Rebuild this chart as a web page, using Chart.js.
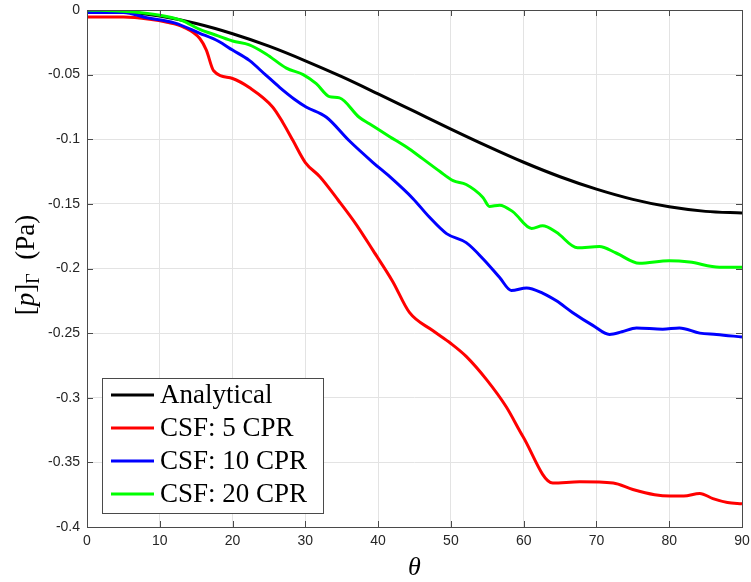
<!DOCTYPE html>
<html>
<head>
<meta charset="utf-8">
<script src="https://cdn.jsdelivr.net/npm/chart.js@4.4.1/dist/chart.umd.min.js"></script>
<style>
  html, body { margin: 0; padding: 0; background: #ffffff; }
  #wrap { width: 751px; height: 582px; }
</style>
</head>
<body>
<div id="wrap"><canvas id="c" width="751" height="582"></canvas></div>
<script>
// ---- Data ----
const seriesLabels = ['Analytical', 'CSF: 5 CPR', 'CSF: 10 CPR', 'CSF: 20 CPR'];
const seriesColors = ['#000000', '#ff0000', '#0000ff', '#00ff00'];

const thetaAnalytical = [0, 5, 10, 15, 20, 25, 30, 35, 40, 45, 50, 55, 60, 65, 70, 75, 80, 85, 90];
const pAnalytical = [0, -0.0012, -0.0047, -0.0105, -0.0184, -0.0280, -0.0393, -0.0516, -0.0649, -0.0785,
  -0.0921, -0.1053, -0.1178, -0.1290, -0.1386, -0.1465, -0.1523, -0.1558, -0.157];

const thetaCsf5 = [0, 5, 8.6, 11, 13.2, 15.5, 16.4, 17.4, 20, 22.3, 25.5, 26.9, 28.3, 30.0, 32, 34.5, 37, 39.3,
  42, 44.3, 47.5, 50, 52.1, 54.9, 57.6, 59.9, 64.0, 67.7, 72.3, 75, 78, 80.1, 82, 84.2, 86, 88, 90];
const pCsf5 = [-0.0054, -0.0055, -0.0072, -0.0095, -0.013, -0.022, -0.031, -0.047, -0.053, -0.060, -0.075,
  -0.087, -0.101, -0.118, -0.129, -0.147, -0.166, -0.186, -0.210, -0.234, -0.248, -0.258, -0.268, -0.286,
  -0.307, -0.330, -0.366, -0.365, -0.366, -0.371, -0.375, -0.376, -0.376, -0.374, -0.378, -0.381, -0.382];

const thetaCsf10 = [0, 5, 8.2, 12, 15.5, 18, 20, 22.3, 24.5, 26.5, 28.5, 30.1, 32.9, 36, 39.3, 41.6, 44.8, 47,
  49.4, 52.1, 54.5, 56.7, 58.3, 60.4, 62.6, 64.5, 66.7, 69.5, 71.8, 73.5, 75.5, 79.1, 81.4, 84.2, 86.5, 90];
const pCsf10 = [-0.002, -0.002, -0.006, -0.010, -0.018, -0.024, -0.031, -0.039, -0.050, -0.060, -0.069, -0.075,
  -0.083, -0.101, -0.118, -0.129, -0.146, -0.160, -0.173, -0.180, -0.193, -0.207, -0.217, -0.215, -0.219,
  -0.225, -0.234, -0.244, -0.251, -0.249, -0.246, -0.247, -0.246, -0.250, -0.251, -0.253];

const thetaCsf20 = [0, 5, 10, 13, 15.5, 18, 20, 22.3, 24.6, 27.4, 29.7, 31.5, 33.3, 34.7, 37.4, 38.8, 41.6, 43.9,
  46.1, 48.5, 50.3, 52.1, 54.4, 55.3, 56.7, 58.5, 61.1, 62.6, 64.5, 67.4, 70.4, 72.7, 75.9, 80, 82.8, 86.9, 90];
const pCsf20 = [0, -0.001, -0.004, -0.008, -0.015, -0.020, -0.024, -0.027, -0.034, -0.045, -0.050, -0.057,
  -0.067, -0.068, -0.083, -0.088, -0.098, -0.106, -0.115, -0.125, -0.132, -0.135, -0.145, -0.152, -0.151,
  -0.156, -0.169, -0.167, -0.172, -0.184, -0.183, -0.188, -0.196, -0.194, -0.195, -0.199, -0.199];

const xTicks = [0, 10, 20, 30, 40, 50, 60, 70, 80, 90];
const yTicks = [0, -0.05, -0.1, -0.15, -0.2, -0.25, -0.3, -0.35, -0.4];

// ---- Build datasets ----
function pts(xs, ys) { return xs.map((x, i) => ({ x: x, y: ys[i] })); }
const allX = [thetaAnalytical, thetaCsf5, thetaCsf10, thetaCsf20];
const allY = [pAnalytical, pCsf5, pCsf10, pCsf20];
const datasets = seriesLabels.map((lab, i) => ({
  label: lab,
  data: pts(allX[i], allY[i]),
  borderColor: seriesColors[i],
  backgroundColor: seriesColors[i],
  borderWidth: 3,
  pointRadius: 0,
  fill: false,
  cubicInterpolationMode: 'monotone',
  order: 3 - i
}));

const AXIS_COLOR = '#4a4a4a';
const TICK_TEXT = '#262626';

const framePlugin = {
  id: 'frame',
  afterDraw(chart) {
    const ctx = chart.ctx;
    const a = chart.chartArea;
    const xs = chart.scales.x, ys = chart.scales.y;
    ctx.save();
    // frame
    ctx.strokeStyle = AXIS_COLOR;
    ctx.lineWidth = 1;
    ctx.strokeRect(Math.round(a.left) + 0.5, Math.round(a.top) + 0.5,
      Math.round(a.right - a.left), Math.round(a.bottom - a.top));
    // inward ticks
    const L = 6;
    ctx.beginPath();
    xTicks.forEach(v => {
      const px = Math.round(xs.getPixelForValue(v)) + 0.5;
      ctx.moveTo(px, a.bottom); ctx.lineTo(px, a.bottom - L);
      ctx.moveTo(px, a.top); ctx.lineTo(px, a.top + L);
    });
    yTicks.forEach(v => {
      const py = Math.round(ys.getPixelForValue(v)) + 0.5;
      ctx.moveTo(a.left, py); ctx.lineTo(a.left + L, py);
      ctx.moveTo(a.right, py); ctx.lineTo(a.right - L, py);
    });
    ctx.stroke();

    // x axis title (theta)
    ctx.fillStyle = '#000';
    ctx.font = 'italic 26px "Liberation Serif", "DejaVu Serif", serif';
    ctx.textAlign = 'center';
    ctx.textBaseline = 'alphabetic';
    ctx.fillText('θ', (a.left + a.right) / 2, 575);

    // y axis title [p]_Γ (Pa)
    ctx.save();
    ctx.translate(34, 265);
    ctx.rotate(-Math.PI / 2);
    const fMain = '27px "Liberation Serif", "DejaVu Serif", serif';
    const fIt = 'italic 27px "Liberation Serif", "DejaVu Serif", serif';
    const fSub = '18px "Liberation Serif", "DejaVu Serif", serif';
    const parts = [
      { t: '[', f: fMain, dy: 0 },
      { t: 'p', f: fIt, dy: 0 },
      { t: ']', f: fMain, dy: 0 },
      { t: 'Γ', f: fSub, dy: 5 },
      { t: '  (Pa)', f: fMain, dy: 0 }
    ];
    let total = 0;
    parts.forEach(p => { ctx.font = p.f; p.w = ctx.measureText(p.t).width; total += p.w; });
    let x = -total / 2;
    ctx.textAlign = 'left';
    parts.forEach(p => { ctx.font = p.f; ctx.fillText(p.t, x, p.dy); x += p.w; });
    ctx.restore();

    // legend
    const lx = 102, ly = 378, lw = 221, lh = 135;
    ctx.fillStyle = '#ffffff';
    ctx.fillRect(lx, ly, lw, lh);
    ctx.strokeStyle = AXIS_COLOR;
    ctx.lineWidth = 1;
    ctx.strokeRect(lx + 0.5, ly + 0.5, lw, lh);
    ctx.font = '27px "Liberation Serif", "DejaVu Serif", serif';
    ctx.textAlign = 'left';
    ctx.textBaseline = 'middle';
    chart.data.datasets.forEach((ds, i) => {
      const cy = 395 + i * 33;
      ctx.strokeStyle = ds.borderColor;
      ctx.lineWidth = 3;
      ctx.beginPath();
      ctx.moveTo(111, cy); ctx.lineTo(154, cy);
      ctx.stroke();
      ctx.fillStyle = '#000';
      ctx.fillText(ds.label, 160, cy + 1);
    });
    ctx.restore();
  }
};

const fmt = v => {
  const r = Math.round(v * 100) / 100;
  return r === 0 ? '0' : String(r);
};

new Chart(document.getElementById('c'), {
  type: 'line',
  data: { datasets: datasets },
  options: {
    responsive: false,
    animation: false,
    devicePixelRatio: 1,
    layout: { padding: { top: 10, right: 9, left: 0, bottom: 0 } },
    plugins: { legend: { display: false }, tooltip: { enabled: false } },
    scales: {
      x: {
        type: 'linear',
        min: 0, max: 90,
        afterFit: s => { s.height = 55; s.paddingLeft = 0; s.paddingRight = 0; },
        afterBuildTicks: s => { s.ticks = xTicks.map(v => ({ value: v })); },
        grid: { color: '#e3e3e3', lineWidth: 1, drawTicks: false },
        border: { display: false },
        ticks: { color: TICK_TEXT, padding: 6, font: { family: '"Liberation Sans", Arial, sans-serif', size: 14 }, maxRotation: 0 }
      },
      y: {
        type: 'linear',
        min: -0.4, max: 0,
        afterFit: s => { s.width = 87; s.paddingTop = 0; s.paddingBottom = 0; },
        afterBuildTicks: s => { s.ticks = yTicks.map(v => ({ value: v })); },
        grid: { color: '#e3e3e3', lineWidth: 1, drawTicks: false },
        border: { display: false },
        ticks: { color: TICK_TEXT, padding: 7, font: { family: '"Liberation Sans", Arial, sans-serif', size: 14 }, callback: fmt }
      }
    }
  },
  plugins: [framePlugin]
});
</script>
</body>
</html>
